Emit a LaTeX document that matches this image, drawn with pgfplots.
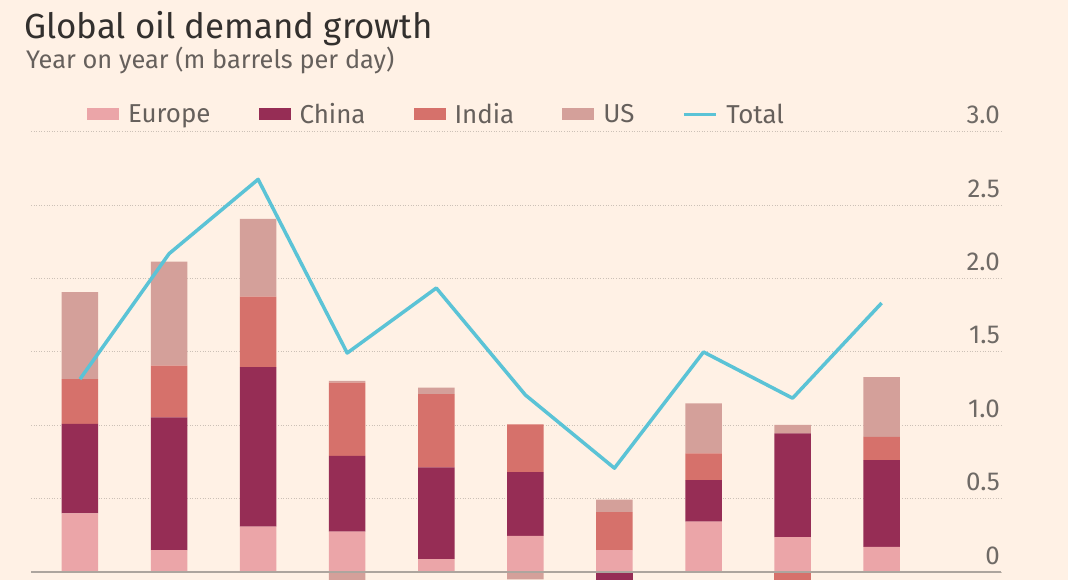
\documentclass[border=0pt]{standalone}
\usepackage{fontspec}
\setmainfont{Fira Sans}
\usepackage{pgfplots}
\pgfplotsset{compat=1.18}
\definecolor{bg}{HTML}{FFF1E5}
\definecolor{europe}{HTML}{EBA5A8}
\definecolor{china}{HTML}{962D55}
\definecolor{india}{HTML}{D6716B}
\definecolor{us}{HTML}{D4A09A}
\definecolor{total}{HTML}{5BC3D6}
\definecolor{titlec}{HTML}{33302E}
\definecolor{subc}{HTML}{66605C}
\definecolor{tickc}{HTML}{6F6A66}
\definecolor{gridc}{HTML}{CCC1B7}
\definecolor{basec}{HTML}{ADA59E}
\begin{document}
\begin{tikzpicture}[x=1bp,y=1bp]
\fill[bg] (0,0) rectangle (1068,580);
\node[anchor=base west, inner sep=0pt, text=titlec, font=\fontsize{35}{35}\selectfont] at (24,541) {Global oil demand growth};
\node[anchor=base west, inner sep=0pt, text=subc, font=\fontsize{25.5}{25.5}\selectfont] at (26,511) {Year on year (m barrels per day)};
\begin{scope}
\clip (0,0) rectangle (1068,580);
\pgfplotsset{common/.style={at={(31bp,0bp)}, anchor=south west, scale only axis,
  width=970bp, height=448bp, xmin=-0.55, xmax=10.34, ymin=-0.0545, ymax=3.0,
  xtick=\empty, clip=true}}
\begin{axis}[common, ybar stacked, bar width=36.5bp,
  ytick={0,0.5,1,1.5,2,2.5,3}, yticklabels={0,0.5,1.0,1.5,2.0,2.5,3.0},
  yticklabel pos=right, ymajorgrids,
  major grid style={gridc, line width=1bp, dash pattern=on 1bp off 1.6bp},
  axis line style={draw=none}, major tick length=0pt,
  yticklabel style={anchor=base east, inner sep=0pt, font=\fontsize{26}{26}\selectfont, text=tickc, yshift=8bp, xshift=-1bp},
  legend columns=-1, legend cell align=left,
  legend style={at={(0.0577,1.040)}, anchor=west, draw=none, fill=none, inner sep=0pt,
    font=\fontsize{26}{26}\selectfont, text=subc,
    nodes={inner sep=0pt},
    /tikz/every odd column/.append style={column sep=9bp},
    /tikz/every even column/.append style={column sep=48bp}}]
\addplot[fill=europe, draw=none, legend image code/.code={\fill[europe] (0bp,-6bp) rectangle (32bp,6bp);}]
  coordinates {(0,0.40) (1,0.15) (2,0.31) (3,0.275) (4,0.087) (5,0.247) (6,0.15) (7,0.343) (8,0.237) (9,0.172)};
\addlegendentry{Europe}
\addplot[fill=china, draw=none, legend image code/.code={\fill[china] (0bp,-6bp) rectangle (32bp,6bp);}]
  coordinates {(0,0.61) (1,0.905) (2,1.087) (3,0.516) (4,0.627) (5,0.434) (6,0) (7,0.284) (8,0.709) (9,0.591)};
\addlegendentry{China}
\addplot[fill=india, draw=none, legend image code/.code={\fill[india] (0bp,-6bp) rectangle (32bp,6bp);}]
  coordinates {(0,0.305) (1,0.352) (2,0.481) (3,0.50) (4,0.498) (5,0.325) (6,0.259) (7,0.182) (8,0) (9,0.159)};
\addlegendentry{India}
\addplot[fill=us, draw=none, legend image code/.code={\fill[us] (0bp,-6bp) rectangle (32bp,6bp);}]
  coordinates {(0,0.593) (1,0.709) (2,0.53) (3,0.012) (4,0.045) (5,0) (6,0.084) (7,0.341) (8,0.057) (9,0.407)};
\addlegendentry{US}
\addlegendimage{legend image code/.code={\draw[total, line width=3bp] (0bp,0bp) -- (32bp,0bp);}}
\addlegendentry{Total}
\end{axis}
\begin{axis}[common, hide axis, ybar, bar width=36.5bp, bar shift=0pt]
\addplot[fill=us, draw=none] coordinates {(3,-0.07) (5,-0.05)};
\addplot[fill=china, draw=none] coordinates {(6,-0.08)};
\addplot[fill=india, draw=none] coordinates {(8,-0.06)};
\end{axis}
\begin{axis}[common, hide axis]
\addplot[total, line width=3.5bp, sharp plot, line join=round, mark=none]
  coordinates {(0,1.315) (1,2.17) (2,2.677) (3,1.493) (4,1.936) (5,1.207) (6,0.708) (7,1.50) (8,1.185) (9,1.834)};
\draw[basec, line width=2bp] (axis cs:-0.55,0) -- (axis cs:10.34,0);
\end{axis}
\end{scope}
\pgfresetboundingbox
\useasboundingbox (0,0) rectangle (1068,580);
\end{tikzpicture}
\end{document}
